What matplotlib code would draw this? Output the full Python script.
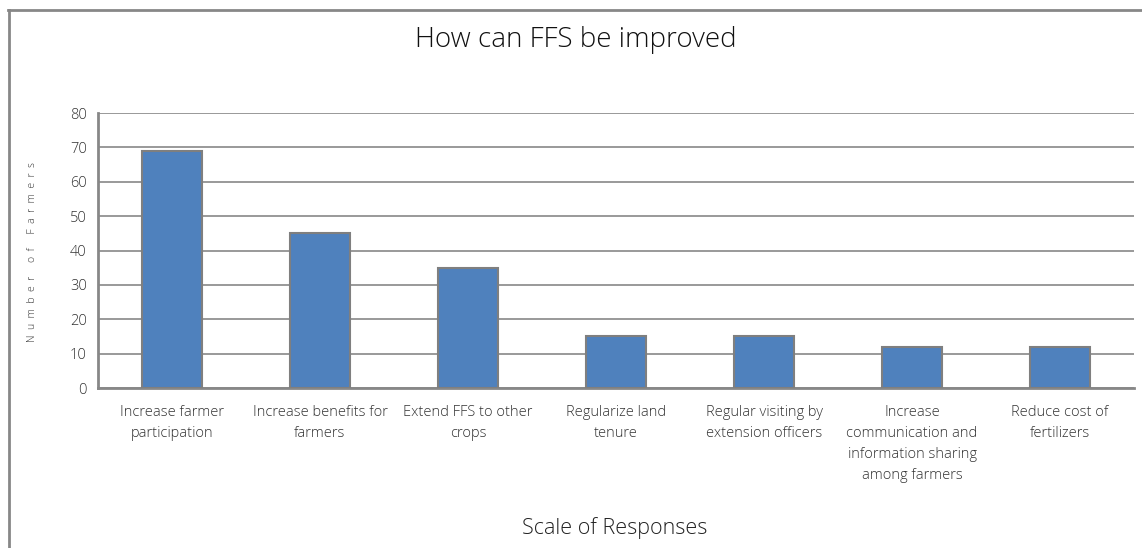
import numpy as np
import matplotlib.pyplot as plt
from matplotlib.lines import Line2D

categories = [
    "Increase farmer\nparticipation",
    "Increase benefits for\nfarmers",
    "Extend FFS to other\ncrops",
    "Regularize land\ntenure",
    "Regular visiting by\nextension officers",
    "Increase\ncommunication and\ninformation sharing\namong farmers",
    "Reduce cost of\nfertilizers",
]
farmers = [69, 45, 35, 15, 15, 12, 12]
yticks = [0, 10, 20, 30, 40, 50, 60, 70, 80]

plt.rcParams['font.family'] = ['Open Sans', 'DejaVu Sans']
plt.rcParams['font.weight'] = 'light'

W, H = 1142, 548
fig = plt.figure(figsize=(W / 100, H / 100), dpi=100)
ax = fig.add_axes([98 / W, 1 - 388 / H, (1134 - 98) / W, (388 - 113) / H])

grey = '#878787'
x = np.arange(len(categories))
ax.bar(x, farmers, width=0.4, color='#4F81BD', edgecolor='#7F7F7F', linewidth=1.5, zorder=3)

ax.set_xlim(-0.5, len(categories) - 0.5)
ax.set_ylim(0, 80)
ax.set_yticks(yticks)
ax.set_yticklabels([str(v) for v in yticks], fontsize=10.5, color='#333333')
ax.set_xticks(x)
ax.set_xticklabels(categories, fontsize=10.5, color='#333333', linespacing=1.55, va='top')
ax.tick_params(axis='both', length=0)
ax.tick_params(axis='x', pad=12)
ax.tick_params(axis='y', pad=8)
ax.yaxis.grid(True, color=grey, linewidth=1.2, zorder=0)

for side in ['top', 'right']:
    ax.spines[side].set_visible(False)
for side in ['left', 'bottom']:
    ax.spines[side].set_color(grey)
    ax.spines[side].set_linewidth(2)

# titles
fig.text(576 / W, 1 - 40 / H, "How can FFS be improved", ha='center', va='center',
         fontsize=20, color='#111111')
fig.text(615 / W, 1 - 528 / H, "Scale of Responses", ha='center', va='center',
         fontsize=15.5, color='#222222')
ylab = "  ".join("Number of Farmers")
fig.text(33 / W, 1 - 252 / H, ylab, ha='center', va='center', rotation=90,
         fontsize=7.5, color='#333333')

# chart area border (top and left edges visible)
fig.add_artist(Line2D([8 / W, 1.0], [1 - 10 / H, 1 - 10 / H], transform=fig.transFigure,
                      color=grey, linewidth=2))
fig.add_artist(Line2D([9 / W, 9 / W], [1 - 10 / H, 0], transform=fig.transFigure,
                      color=grey, linewidth=2))

fig.savefig('out.png', dpi=100)
